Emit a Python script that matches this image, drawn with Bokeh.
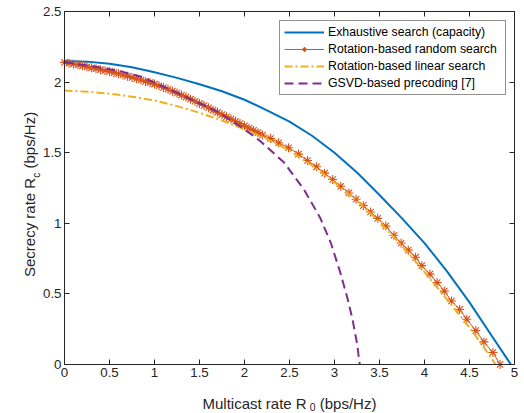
import math
from bokeh.plotting import figure
from bokeh.models import Range1d, FixedTicker, LinearAxis, Label, Legend
from bokeh.embed import file_html
from bokeh.resources import INLINE

# ---------------- data ----------------
x_ticks = [0, 0.5, 1, 1.5, 2, 2.5, 3, 3.5, 4, 4.5, 5]
x_tick_labels = ["0", "0.5", "1", "1.5", "2", "2.5", "3", "3.5", "4", "4.5", "5"]
y_ticks = [0, 0.5, 1, 1.5, 2, 2.5]
y_tick_labels = ["0", "0.5", "1", "1.5", "2", "2.5"]

series_names = ["Exhaustive search (capacity)", "Rotation-based random search",
                "Rotation-based linear search", "GSVD-based precoding [7]"]

exh_x = [0.00, 0.25, 0.50, 0.75, 1.00, 1.25, 1.50, 1.75, 2.00, 2.25, 2.50, 2.75,
         3.00, 3.25, 3.50, 3.75, 4.00, 4.25, 4.50, 4.75, 4.96]
exh_y = [2.150, 2.145, 2.130, 2.105, 2.070, 2.030, 1.985, 1.935, 1.875, 1.800, 1.720, 1.620,
         1.500, 1.360, 1.200, 1.035, 0.860, 0.660, 0.440, 0.200, 0.000]

rnd_x = [0.00, 0.05, 0.10, 0.15, 0.20, 0.25, 0.30, 0.35, 0.40, 0.45, 0.50, 0.55,
         0.60, 0.65, 0.70, 0.75, 0.80, 0.85, 0.90, 0.95, 1.00, 1.05, 1.10, 1.15,
         1.20, 1.25, 1.30, 1.35, 1.40, 1.45, 1.50, 1.55, 1.60, 1.65, 1.70, 1.75,
         1.80, 1.85, 1.90, 1.95, 2.00, 2.05, 2.10, 2.15,
         2.20, 2.29, 2.38, 2.49, 2.60, 2.70, 2.80, 2.89, 2.98, 3.07, 3.16, 3.24,
         3.32, 3.40, 3.48, 3.57, 3.66, 3.74, 3.82, 3.90, 3.97, 4.06, 4.14, 4.22,
         4.30, 4.39, 4.47, 4.57, 4.66, 4.76, 4.84]
rnd_y = [2.140, 2.134, 2.128, 2.122, 2.115, 2.108, 2.101, 2.095, 2.088, 2.081, 2.075, 2.067,
         2.059, 2.050, 2.042, 2.033, 2.024, 2.015, 2.005, 1.996, 1.986, 1.974, 1.962, 1.949,
         1.936, 1.922, 1.908, 1.894, 1.879, 1.864, 1.849, 1.834, 1.818, 1.802, 1.786, 1.770,
         1.754, 1.738, 1.722, 1.706, 1.690, 1.674, 1.658, 1.642,
         1.625, 1.600, 1.570, 1.535, 1.490, 1.445, 1.400, 1.355, 1.310, 1.262, 1.215, 1.170,
         1.125, 1.080, 1.035, 0.980, 0.915, 0.860, 0.810, 0.760, 0.700, 0.640, 0.580, 0.520,
         0.450, 0.390, 0.320, 0.240, 0.160, 0.085, 0.000]

lin_x = [0.00, 0.25, 0.50, 0.75, 1.00, 1.25, 1.50, 1.75, 2.00, 2.25, 2.50, 2.75,
         3.00, 3.25, 3.50, 3.75, 4.00, 4.25, 4.50, 4.65, 4.79]
lin_y = [1.940, 1.932, 1.918, 1.897, 1.870, 1.830, 1.783, 1.728, 1.665, 1.598, 1.515, 1.410,
         1.290, 1.160, 1.010, 0.840, 0.655, 0.460, 0.262, 0.130, 0.000]

gsvd_x = [0.00, 0.33, 0.60, 0.84, 1.03, 1.40, 1.70, 1.99, 2.18, 2.44, 2.66, 2.84,
          2.96, 3.06, 3.14, 3.20, 3.25, 3.28]
gsvd_y = [2.140, 2.110, 2.080, 2.040, 1.990, 1.880, 1.790, 1.670, 1.580, 1.430, 1.240, 1.040,
          0.860, 0.660, 0.480, 0.320, 0.150, 0.000]

# ---------------- layout / styles ----------------
W, H = 524, 413
BOX_L, BOX_R, BOX_T, BOX_B = 64, 514, 11, 364     # axes box in pixels
X0, X1, Y0, Y1 = 0.0, 5.0, 0.0, 2.5
sx = (BOX_R - BOX_L) / (X1 - X0)
sy = (BOX_B - BOX_T) / (Y1 - Y0)

C_BLUE = "#0072BD"
C_ORANGE = "#D95319"
C_YELLOW = "#EDB120"
C_PURPLE = "#7E2F8E"
AX = "#262626"
FONT = "Liberation Sans"

p = figure(frame_width=W, frame_height=H, min_border=0,
           x_range=Range1d(X0 - BOX_L / sx, X1 + (W - BOX_R) / sx),
           y_range=Range1d(Y0 - (H - BOX_B) / sy, Y1 + BOX_T / sy),
           output_backend="svg", toolbar_location=None, tools="")
p.background_fill_color = "white"
p.border_fill_color = "white"
p.outline_line_color = None
p.xgrid.visible = False
p.ygrid.visible = False

r_exh = p.line(exh_x, exh_y, line_color=C_BLUE, line_width=2)
r_rnd_l = p.line(rnd_x, rnd_y, line_color=C_ORANGE, line_width=1)
r_rnd_m = p.scatter(rnd_x, rnd_y, marker="asterisk", size=9, line_color=C_ORANGE, line_width=1.1)
r_lin = p.line(lin_x, lin_y, line_color=C_YELLOW, line_width=2, line_dash="8 3 2 3")
r_gsvd = p.line(gsvd_x, gsvd_y, line_color=C_PURPLE, line_width=2, line_dash="9 5")

def style_axis(ax, ticks, labels, loc, bounds, show_labels=True):
    ax.fixed_location = loc
    ax.bounds = bounds
    ax.ticker = FixedTicker(ticks=ticks)
    ax.minor_tick_line_color = None
    ax.major_tick_in = 5
    ax.major_tick_out = 0
    ax.axis_line_color = AX
    ax.major_tick_line_color = AX
    ax.axis_line_width = 1
    if show_labels:
        ax.major_label_overrides = {(int(t) if float(t).is_integer() else t): s
                                    for t, s in zip(ticks, labels)}
        ax.major_label_text_font = FONT
        ax.major_label_text_font_size = "13.3px"
        ax.major_label_text_color = AX
        ax.major_label_standoff = 3
    else:
        ax.major_label_text_font_size = "0px"
        ax.major_label_text_alpha = 0
        ax.major_label_standoff = 0

style_axis(p.xaxis[0], x_ticks, x_tick_labels, Y0, (X0, X1))
style_axis(p.yaxis[0], y_ticks, y_tick_labels, X0, (Y0, Y1))
top_ax = LinearAxis()
right_ax = LinearAxis()
style_axis(top_ax, x_ticks, x_tick_labels, Y1, (X0, X1), show_labels=False)
style_axis(right_ax, y_ticks, y_tick_labels, X1, (Y0, Y1), show_labels=False)
p.add_layout(top_ax, "above")
p.add_layout(right_ax, "right")

# axis labels with subscripts (screen units from the canvas bottom-left)
lab_kw = dict(x_units="screen", y_units="screen", text_font=FONT, text_color=AX,
              text_baseline="alphabetic", text_align="left")
p.add_layout(Label(x=202, y=H - 403.3, text="Multicast rate R", text_font_size="15px", **lab_kw))
p.add_layout(Label(x=309.2, y=H - 406.5, text="0", text_font_size="10.3px", **lab_kw))
p.add_layout(Label(x=319.2, y=H - 403.3, text="(bps/Hz)", text_font_size="15px", **lab_kw))

rot = math.pi / 2
p.add_layout(Label(x=29, y=H - 276.5, angle=rot, text="Secrecy rate R",
                   text_font_size="15px", **lab_kw))
p.add_layout(Label(x=35.5, y=H - 177.3, angle=rot, text="c",
                   text_font_size="10.3px", **lab_kw))
p.add_layout(Label(x=29, y=H - 168.0, angle=rot, text="(bps/Hz)",
                   text_font_size="15px", **lab_kw))

legend = Legend(items=[(series_names[0], [r_exh]),
                       (series_names[1], [r_rnd_l, r_rnd_m]),
                       (series_names[2], [r_lin]),
                       (series_names[3], [r_gsvd])],
                location=(279, H - 95))
legend.label_text_font = FONT
legend.label_text_font_size = "12.3px"
legend.label_text_color = "black"
legend.glyph_width = 40
legend.glyph_height = 12
legend.label_height = 12
legend.label_width = 173
legend.label_standoff = 4
legend.padding = 4
legend.spacing = 3
legend.margin = 0
legend.border_line_color = AX
legend.border_line_width = 1
legend.background_fill_color = "white"
legend.background_fill_alpha = 1
p.add_layout(legend, "center")

open("out.html", "w").write(file_html(p, INLINE))
